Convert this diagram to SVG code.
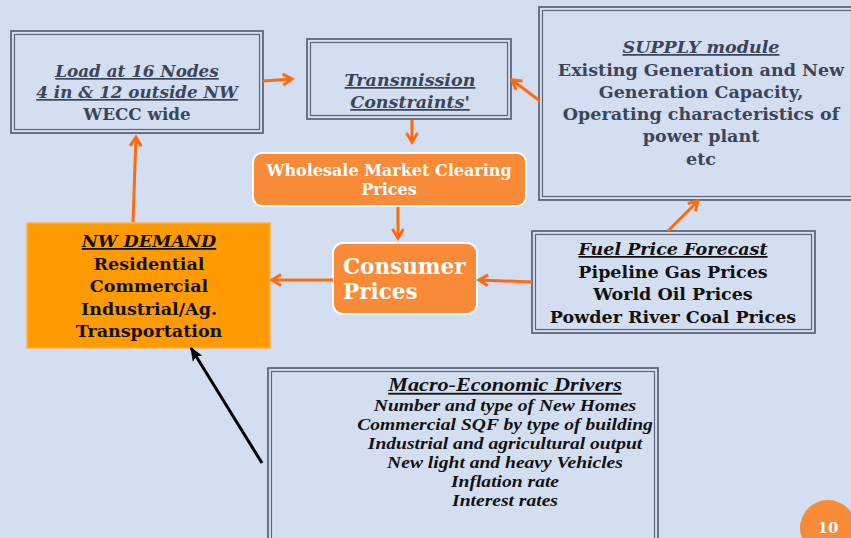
<svg xmlns="http://www.w3.org/2000/svg" width="851" height="538" viewBox="0 0 851 538">
  <defs>
    <style>
      .frame { fill: none; stroke: #5E677A; stroke-width: 1.8; }
      .frame-in { fill: none; stroke: #5E677A; stroke-width: 1.2; }
      .slate { font-family: "DejaVu Serif", "Liberation Serif", serif; font-weight: bold; fill: #3B4559; text-anchor: middle; }
      .ink { font-family: "DejaVu Serif", "Liberation Serif", serif; font-weight: bold; fill: #111111; text-anchor: middle; }
      .times { font-family: "Liberation Serif", "Times New Roman", serif; font-weight: bold; font-style: italic; fill: #111111; text-anchor: middle; }
      .ital { font-style: italic; text-decoration: underline; }
      .white { font-family: "DejaVu Serif", "Liberation Serif", serif; font-weight: bold; fill: #FFFFFF; }
      .conn { stroke: #FF6A10; stroke-width: 3; fill: none; }
    </style>
    <marker id="arrow" viewBox="0 0 12 12" refX="10" refY="6" markerWidth="12" markerHeight="12" markerUnits="userSpaceOnUse" orient="auto" overflow="visible">
      <path d="M1,0.5 L10,6 L1,11.5" fill="none" stroke="#FF6A10" stroke-width="3" stroke-linejoin="miter"/>
    </marker>
    <marker id="arrowBlack" viewBox="0 0 10 10" refX="9" refY="5" markerWidth="14" markerHeight="14" markerUnits="userSpaceOnUse" orient="auto">
      <path d="M0,1 L10,5 L0,9 L2,5 Z" fill="#000000"/>
    </marker>
  </defs>

  <rect width="851" height="538" fill="#D3DEF1"/>

  <!-- Load node -->
  <g id="load">
    <rect x="11" y="31" width="252" height="102" class="frame"/>
    <rect x="14.5" y="34.5" width="245" height="95" class="frame-in"/>
    <text class="slate" font-size="16.8"><tspan x="137" y="77" class="ital">Load at 16 Nodes</tspan><tspan x="137" y="98" class="ital">4 in &amp; 12 outside NW</tspan><tspan x="137" y="120">WECC wide</tspan></text>
  </g>

  <!-- Transmission node -->
  <g id="transmission">
    <rect x="307" y="39" width="204" height="80" class="frame"/>
    <rect x="310.5" y="42.5" width="197" height="73" class="frame-in"/>
    <text class="slate" font-size="17.5"><tspan x="410" y="86" class="ital">Transmission</tspan><tspan x="410" y="108" class="ital">Constraints'</tspan></text>
  </g>

  <!-- Supply node -->
  <g id="supply">
    <rect x="539" y="7" width="316" height="193" class="frame"/>
    <rect x="542.5" y="10.5" width="309" height="186" class="frame-in"/>
    <text class="slate" font-size="17.5"><tspan x="701" y="53" class="ital">SUPPLY module</tspan><tspan x="701" y="76">Existing Generation and New</tspan><tspan x="701" y="98">Generation Capacity,</tspan><tspan x="701" y="120">Operating characteristics of</tspan><tspan x="701" y="142">power plant</tspan><tspan x="701" y="165">etc</tspan></text>
  </g>

  <!-- Wholesale node -->
  <g id="wholesale">
    <rect x="253" y="153" width="273" height="53" rx="9" fill="#F98A38" stroke="#FFFFFF" stroke-width="2"/>
    <text class="white" font-size="16" text-anchor="middle"><tspan x="389" y="176">Wholesale Market Clearing</tspan><tspan x="389" y="195">Prices</tspan></text>
  </g>

  <!-- Consumer node -->
  <g id="consumer">
    <rect x="333" y="243" width="144" height="71" rx="10" fill="#F98A38" stroke="#FFFFFF" stroke-width="2"/>
    <text class="white" font-size="21.5"><tspan x="343" y="274">Consumer</tspan><tspan x="343" y="299">Prices</tspan></text>
  </g>

  <!-- NW demand node -->
  <g id="demand">
    <rect x="27" y="223" width="243" height="125" fill="#FF9A00" stroke="#F8B060" stroke-width="1.5"/>
    <text class="ink" font-size="17.5"><tspan x="149" y="247" class="ital">NW DEMAND</tspan><tspan x="149" y="270">Residential</tspan><tspan x="149" y="292">Commercial</tspan><tspan x="149" y="315">Industrial/Ag.</tspan><tspan x="149" y="337">Transportation</tspan></text>
  </g>

  <!-- Fuel price node -->
  <g id="fuel">
    <rect x="532" y="231" width="283" height="102" class="frame"/>
    <rect x="535.5" y="234.5" width="276" height="95" class="frame-in"/>
    <text class="ink" font-size="17.5"><tspan x="673" y="255" class="ital">Fuel Price Forecast</tspan><tspan x="673" y="278">Pipeline Gas Prices</tspan><tspan x="673" y="300">World Oil Prices</tspan><tspan x="673" y="323">Powder River Coal Prices</tspan></text>
  </g>

  <!-- Macro-economic node -->
  <g id="macro">
    <rect x="268" y="368" width="390" height="180" class="frame"/>
    <rect x="271.5" y="371.5" width="383" height="180" class="frame-in"/>
    <g transform="translate(505,0) scale(1.2,1)">
      <text class="times" font-size="18.5"><tspan x="0" y="391" text-decoration="underline">Macro-Economic Drivers</tspan></text>
      <text class="times" font-size="16.3"><tspan x="0" y="411">Number and type of New Homes</tspan><tspan x="0" y="430">Commercial SQF by type of building</tspan><tspan x="0" y="449">Industrial and agricultural output</tspan><tspan x="0" y="468">New light and heavy Vehicles</tspan><tspan x="0" y="487">Inflation rate</tspan><tspan x="0" y="506">Interest rates</tspan></text>
    </g>
  </g>

  <!-- Connectors -->
  <g id="connectors">
    <line x1="263" y1="81" x2="292" y2="79" class="conn" marker-end="url(#arrow)"/>
    <line x1="540" y1="101" x2="512" y2="80" class="conn" marker-end="url(#arrow)"/>
    <line x1="412" y1="120" x2="412" y2="142" class="conn" marker-end="url(#arrow)"/>
    <line x1="398" y1="207" x2="398" y2="238" class="conn" marker-end="url(#arrow)"/>
    <line x1="333" y1="280" x2="272" y2="280" class="conn" marker-end="url(#arrow)"/>
    <line x1="532" y1="282" x2="479" y2="280" class="conn" marker-end="url(#arrow)"/>
    <line x1="668" y1="231" x2="698" y2="201" class="conn" marker-end="url(#arrow)"/>
    <line x1="133" y1="222" x2="136" y2="137" class="conn" marker-end="url(#arrow)"/>
    <line x1="262" y1="463" x2="191" y2="348" stroke="#000000" stroke-width="3" marker-end="url(#arrowBlack)"/>
  </g>

  <!-- Page number -->
  <g id="page-number">
    <circle cx="828" cy="528" r="28" fill="#F98A38"/>
    <text x="828" y="533" class="white" font-size="15" text-anchor="middle">10</text>
  </g>
</svg>
